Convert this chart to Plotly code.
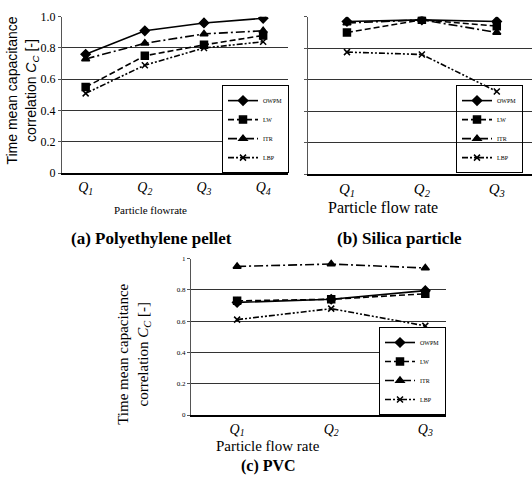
import plotly.graph_objects as go

W, H = 532, 490

series = ["OWPM", "LW", "ITR", "LBP"]

cats_a = ["Q1", "Q2", "Q3", "Q4"]
pe_owpm = [0.76, 0.91, 0.96, 0.99]
pe_lw = [0.55, 0.75, 0.82, 0.88]
pe_itr = [0.73, 0.83, 0.89, 0.91]
pe_lbp = [0.51, 0.69, 0.80, 0.84]

cats_b = ["Q1", "Q2", "Q3"]
si_owpm = [0.97, 0.98, 0.97]
si_lw = [0.90, 0.98, 0.94]
si_itr = [0.96, 0.98, 0.90]
si_lbp = [0.775, 0.76, 0.525]

cats_c = ["Q1", "Q2", "Q3"]
pvc_owpm = [0.72, 0.74, 0.795]
pvc_lw = [0.73, 0.74, 0.775]
pvc_itr = [0.95, 0.965, 0.94]
pvc_lbp = [0.61, 0.68, 0.57]

y_ticks = [0, 0.2, 0.4, 0.6, 0.8, 1.0]
y_text_a = ["0", "0.2", "0.4", "0.6", "0.8", "1.0"]
y_text_c = ["0", "0.2", "0.4", "0.6", "0.8", "1"]
grid_vals = [0.2, 0.4, 0.6, 0.8]

styles = {
    "OWPM": dict(dash="solid", symbol="diamond", size=7),
    "LW": dict(dash="6px,3px", symbol="square", size=7),
    "ITR": dict(dash="9px,3px,2px,3px", symbol="triangle-up", size=7),
    "LBP": dict(dash="6px,2px,2px,2px,2px,2px", symbol="x-thin", size=6),
}

SERIF = "Liberation Serif"

def qlabels(cats):
    return ["<i>Q<sub>%s</sub></i>" % c[1:] for c in cats]

fig = go.Figure()

panels = [
    ("x", "y", "legend", cats_a, [pe_owpm, pe_lw, pe_itr, pe_lbp]),
    ("x2", "y2", "legend2", cats_b, [si_owpm, si_lw, si_itr, si_lbp]),
    ("x3", "y3", "legend3", cats_c, [pvc_owpm, pvc_lw, pvc_itr, pvc_lbp]),
]
for xa, ya, lg, cats, vals in panels:
    for name, v in zip(series, vals):
        st = styles[name]
        fig.add_trace(go.Scatter(
            x=list(range(len(cats))), y=v, name=name, xaxis=xa, yaxis=ya, legend=lg,
            mode="lines+markers",
            line=dict(color="black", width=1.6, dash=st["dash"]),
            marker=dict(symbol=st["symbol"], size=st["size"], color="black",
                        line=dict(color="black", width=1.5)),
        ))

def px_x(p):
    return p / W

def px_y(p):
    return 1 - p / H

def xaxis(dom, cats, rng, anchor, fs):
    return dict(domain=dom, anchor=anchor, range=rng,
                tickvals=list(range(len(cats))), ticktext=qlabels(cats),
                tickfont=dict(family=SERIF, size=fs, color="black"),
                showline=True, linecolor="black", linewidth=1.5,
                showgrid=False, zeroline=False, ticks="", fixedrange=True)

def yaxis(dom, anchor, ticktext, fs, show_labels=True):
    return dict(domain=dom, anchor=anchor, range=[0, 1.0],
                tickvals=y_ticks, ticktext=ticktext, showticklabels=show_labels,
                tickfont=dict(family=SERIF, size=fs, color="black"),
                showline=True, linecolor="#555", linewidth=1,
                showgrid=False, zeroline=False, ticks="outside", ticklen=3,
                tickcolor="#555",
                minor=dict(tickvals=grid_vals, showgrid=True, gridcolor="#333",
                           gridwidth=1, ticks=""),
                fixedrange=True)

fig.update_layout(
    width=W, height=H,
    margin=dict(l=0, r=0, t=0, b=0),
    paper_bgcolor="white", plot_bgcolor="white",
    xaxis=xaxis([px_x(62), px_x(288)], cats_a, [-0.4, 3.42], "y", 14),
    yaxis=yaxis([px_y(171), px_y(10)], "x", y_text_a, 12),
    xaxis2=xaxis([px_x(308), px_x(532)], cats_b, [-0.52, 2.47], "y2", 15),
    yaxis2=yaxis([px_y(172), px_y(10)], "x2", y_text_a, 12, show_labels=False),
    xaxis3=xaxis([px_x(191), px_x(446)], cats_c, [-0.49, 2.22], "y3", 14),
    yaxis3=yaxis([px_y(420), px_y(259)], "x3", y_text_c, 7),
    showlegend=True,
)

leg_common = dict(xanchor="right", yanchor="bottom", bordercolor="black", borderwidth=1,
                  font=dict(family=SERIF, size=6, color="black"),
                  itemwidth=30, tracegroupgap=0)
fig.update_layout(
    legend=dict(x=px_x(289), y=px_y(171), bgcolor="white", **leg_common),
    legend2=dict(x=px_x(523), y=px_y(171), bgcolor="rgba(255,255,255,0)", **leg_common),
    legend3=dict(x=px_x(446), y=px_y(420), bgcolor="white", **leg_common),
)

def note(text, xp, yp, size, family=SERIF, angle=0):
    return dict(text=text, x=px_x(xp), y=px_y(yp), xref="paper", yref="paper",
                xanchor="center", yanchor="middle", showarrow=False, textangle=angle,
                font=dict(family=family, size=size, color="black"))

ytitle = "Time mean capacitance<br>correlation <i>C<sub>C</sub></i> [-]"
ann = [
    note(ytitle, 22, 86, 14, family="Liberation Sans", angle=-90),
    note(ytitle, 134, 358, 15, angle=-90),
    note("Particle flowrate", 150, 209, 11),
    note("Particle flow rate", 383, 206, 16),
    note("Particle flow rate", 268, 452, 15),
    note("<b>(c) PVC</b>", 268, 473, 16),
    note("<b>(a) Polyethylene pellet</b>", 151, 238, 17),
    note("<b>(b) Silica particle</b>", 399, 238, 17),
]
fig.update_layout(annotations=ann)

fig.write_html("out.html")
